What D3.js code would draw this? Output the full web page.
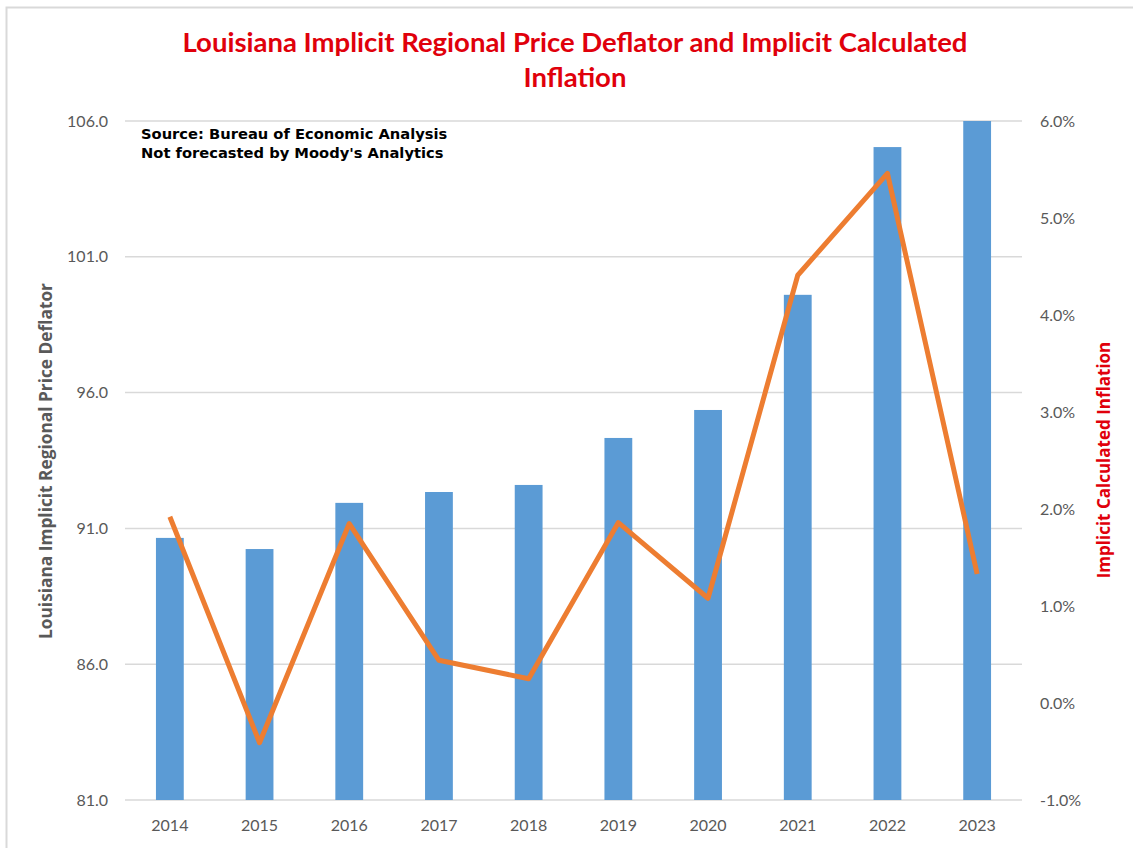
<!DOCTYPE html>
<html>
<head>
<meta charset="utf-8">
<script src="https://cdn.jsdelivr.net/npm/d3@7"></script>
<style>
  body { margin: 0; background: #fff; }
  .tick-label { font-family: Lato, "Open Sans", sans-serif; font-size: 16px; fill: #595959; }
</style>
</head>
<body>
<svg id="chart" width="1133" height="848"></svg>
<script>
// data
const years = ["2014", "2015", "2016", "2017", "2018", "2019", "2020", "2021", "2022", "2023"]
const deflator = [90.65, 90.24, 91.94, 92.34, 92.6, 94.33, 95.36, 99.6, 105.04, 106.0]
const inflation = [1.92, -0.41, 1.85, 0.44, 0.25, 1.86, 1.08, 4.41, 5.46, 1.33]
const leftTicks = [81, 86, 91, 96, 101, 106]
const rightTicks = [-1, 0, 1, 2, 3, 4, 5, 6]

var margin = {top: 121, right: 111, bottom: 48, left: 125}
  , width = 1133 - margin.left - margin.right
  , height = 848 - margin.top - margin.bottom

var svg = d3.select("#chart")

// outer frame of the chart
svg.append("rect")
  .attr("x", 6.5).attr("y", 7.5)
  .attr("width", 1140).attr("height", 860)
  .attr("fill", "none")
  .attr("stroke", "#d9d9d9")
  .attr("stroke-width", 2)

var x = d3.scaleBand()
  .domain(years)
  .range([0, width])
  .paddingInner(0.69)
  .paddingOuter(0.345)

var yLeft = d3.scaleLinear()
  .domain([81, 106])
  .range([height, 0])

var yRight = d3.scaleLinear()
  .domain([-1, 6])
  .range([height, 0])

var graph = svg.append("g")
  .attr("transform", "translate(" + margin.left + "," + margin.top + ")")

// gridlines from left axis
graph.append("g")
  .selectAll("line")
  .data(leftTicks)
  .enter().append("line")
  .attr("x1", 0).attr("x2", width)
  .attr("y1", d => yLeft(d)).attr("y2", d => yLeft(d))
  .attr("stroke", "#d9d9d9")
  .attr("stroke-width", 1.5)

// left axis labels
graph.append("g")
  .call(d3.axisLeft(yLeft).tickValues(leftTicks).tickFormat(d3.format(".1f")).tickSize(0).tickPadding(17))
  .call(g => g.select(".domain").remove())
  .selectAll("text")
  .attr("class", "tick-label")

// right axis labels (plain hyphen for the minus, as in the original)
graph.append("g")
  .attr("transform", "translate(" + width + ",0)")
  .call(d3.axisRight(yRight).tickValues(rightTicks).tickFormat(d => d.toFixed(1) + "%").tickSize(0).tickPadding(18))
  .call(g => g.select(".domain").remove())
  .selectAll("text")
  .attr("class", "tick-label")

// x axis labels
graph.append("g")
  .attr("transform", "translate(0," + height + ")")
  .call(d3.axisBottom(x).tickSize(0).tickPadding(20))
  .call(g => g.select(".domain").remove())
  .selectAll("text")
  .attr("class", "tick-label")

// bars
graph.append("g")
  .selectAll("rect")
  .data(deflator)
  .enter().append("rect")
  .attr("x", (d, i) => x(years[i]))
  .attr("y", d => yLeft(d))
  .attr("width", x.bandwidth())
  .attr("height", d => height - yLeft(d))
  .attr("fill", "#5b9bd5")

// inflation line
var line = d3.line()
  .x((d, i) => x(years[i]) + x.bandwidth() / 2)
  .y(d => yRight(d))

graph.append("path")
  .datum(inflation)
  .attr("d", line)
  .attr("fill", "none")
  .attr("stroke", "#ed7d31")
  .attr("stroke-width", 5)
  .attr("stroke-linejoin", "round")

// title
svg.append("text")
  .attr("x", 575).attr("y", 52)
  .attr("text-anchor", "middle")
  .style("font-family", "Lato, sans-serif")
  .style("font-weight", "bold")
  .style("font-size", "27.5px")
  .attr("fill", "#e0000b")
  .text("Louisiana Implicit Regional Price Deflator and Implicit Calculated")

svg.append("text")
  .attr("x", 575).attr("y", 87)
  .attr("text-anchor", "middle")
  .style("font-family", "Lato, sans-serif")
  .style("font-weight", "bold")
  .style("font-size", "27.5px")
  .attr("fill", "#e0000b")
  .text("Inflation")

// source note
const note = svg.append("text")
  .style("font-family", "'DejaVu Sans', Verdana, sans-serif")
  .style("font-weight", "bold")
  .style("font-size", "14.7px")
  .attr("fill", "#000")
note.append("tspan").attr("x", 141).attr("y", 139).text("Source: Bureau of Economic Analysis")
note.append("tspan").attr("x", 141).attr("y", 158).text("Not forecasted by Moody's Analytics")

// axis titles
svg.append("text")
  .attr("transform", "translate(52,461) rotate(-90)")
  .attr("text-anchor", "middle")
  .style("font-family", "'Open Sans', sans-serif")
  .style("font-weight", "bold")
  .style("font-size", "17.3px")
  .attr("fill", "#595959")
  .text("Louisiana Implicit Regional Price Deflator")

svg.append("text")
  .attr("transform", "translate(1110,460) rotate(-90)")
  .attr("text-anchor", "middle")
  .style("font-family", "'Open Sans', sans-serif")
  .style("font-weight", "bold")
  .style("font-size", "17px")
  .attr("fill", "#e0000b")
  .text("Implicit Calculated Inflation")
</script>
</body>
</html>
